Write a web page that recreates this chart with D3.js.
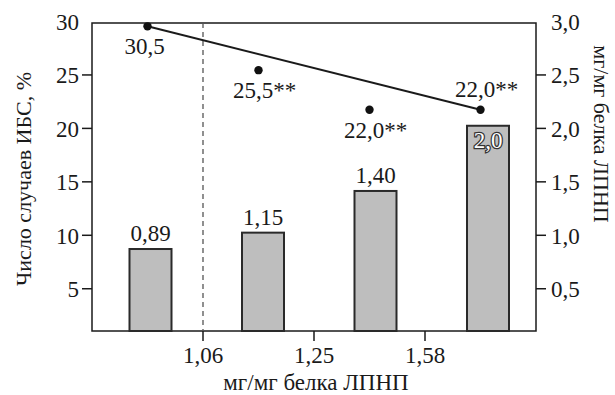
<!DOCTYPE html>
<html>
<head>
<meta charset="utf-8">
<script src="https://cdn.jsdelivr.net/npm/d3@7"></script>
<style>
  body { margin: 0; background: #fff; }
  svg text { font-family: "Liberation Serif", "Times New Roman", serif; fill: #1a1a1a; }
</style>
</head>
<body>
<script>
// quartile groups
var groups = ['Q1', 'Q2', 'Q3', 'Q4'];
var boundLabels = ['1,06', '1,25', '1,58'];

// bars, right axis (мг/мг белка ЛПНП)
var barValues = [0.867, 1.02, 1.41, 2.02];
var barLabels = ['0,89', '1,15', '1,40', '2,0'];

// points, left axis (% cases)
var dotValues = [29.5, 25.4, 21.7, 21.7];
var dotLabels = ['30,5', '25,5**', '22,0**', '22,0**'];

var leftTicks = [5, 10, 15, 20, 25, 30];
var rightTicks = [0.5, 1.0, 1.5, 2.0, 2.5, 3.0];

var width = 615, height = 395;
var x0 = 92, x1 = 536, yTop = 23, yBot = 331;

var svg = d3.select('body').append('svg')
    .attr('width', width)
    .attr('height', height);

var x = d3.scaleBand()
    .domain(groups)
    .range([x0, x1])
    .paddingInner(0)
    .paddingOuter(0);

var yL = d3.scaleLinear().domain([1, 30]).range([yBot, 21]);
var yR = d3.scaleLinear().domain([0.1, 3.0]).range([yBot, 21]);

var comma = function(d) { return d3.format('.1f')(d).replace('.', ','); };

// frame
svg.append('rect')
    .attr('x', x0).attr('y', yTop)
    .attr('width', x1 - x0).attr('height', yBot - yTop)
    .attr('fill', 'none')
    .attr('stroke', '#1a1a1a')
    .attr('stroke-width', 1.5);

// left axis
var gL = svg.append('g')
    .attr('transform', 'translate(' + x0 + ',0)')
    .call(d3.axisLeft(yL).tickValues(leftTicks).tickSize(10).tickPadding(3));
// right axis
var gR = svg.append('g')
    .attr('transform', 'translate(' + x1 + ',0)')
    .call(d3.axisRight(yR).tickValues(rightTicks).tickSize(10).tickPadding(5).tickFormat(comma));

[gL, gR].forEach(function(g) {
    g.select('.domain').remove();
    g.selectAll('.tick line').attr('stroke', '#1a1a1a').attr('stroke-width', 1.5)
        .filter(function(d, i) { return i === leftTicks.length - 1; }).remove();
    g.selectAll('.tick text').style('font-size', '23px').attr('dy', '0.36em');
});

// x axis: ticks at group boundaries
var bounds = groups.slice(1).map(function(g) { return x(g); });
var gX = svg.append('g').attr('transform', 'translate(0,' + yBot + ')');
gX.selectAll('line').data(bounds).enter().append('line')
    .attr('x1', function(d) { return d; }).attr('x2', function(d) { return d; })
    .attr('y1', 0).attr('y2', 10)
    .attr('stroke', '#1a1a1a').attr('stroke-width', 1.5);
gX.selectAll('text').data(bounds).enter().append('text')
    .attr('x', function(d) { return d; })
    .attr('y', 32)
    .attr('text-anchor', 'middle')
    .style('font-size', '23px')
    .text(function(d, i) { return boundLabels[i]; });

// dashed line at first boundary
svg.append('line')
    .attr('x1', bounds[0]).attr('x2', bounds[0])
    .attr('y1', yTop).attr('y2', yBot)
    .attr('stroke', '#555')
    .attr('stroke-width', 1.3)
    .attr('stroke-dasharray', '5,4');

// bars
var barW = 42;
var bx = function(i) { return x(groups[i]) + x.bandwidth() / 2 + 3 + i * 1.5; };
svg.selectAll('.bar').data(barValues).enter().append('rect')
    .attr('class', 'bar')
    .attr('x', function(d, i) { return bx(i) - barW / 2; })
    .attr('y', function(d) { return yR(d); })
    .attr('width', barW)
    .attr('height', function(d) { return yBot - yR(d); })
    .attr('fill', '#bebebe')
    .attr('stroke', '#2a2a2a')
    .attr('stroke-width', 2);

var last = barValues.length - 1;
svg.selectAll('.blabel').data(barValues).enter().append('text')
    .attr('class', 'blabel')
    .attr('x', function(d, i) { return bx(i); })
    .attr('y', function(d, i) { return i === last ? yR(d) + 22 : yR(d) - 8; })
    .attr('text-anchor', 'middle')
    .style('font-size', '23px')
    .style('paint-order', 'stroke')
    .style('stroke', function(d, i) { return i === last ? '#333' : 'none'; })
    .style('stroke-width', 2.5)
    .style('fill', function(d, i) { return i === last ? '#fff' : '#1a1a1a'; }, 'important')
    .text(function(d, i) { return barLabels[i]; });

// trend line first -> last point
var cx = function(i) { return x(groups[i]) + x.bandwidth() / 2; };
svg.append('line')
    .attr('x1', cx(0)).attr('y1', yL(dotValues[0]))
    .attr('x2', cx(last)).attr('y2', yL(dotValues[last]))
    .attr('stroke', '#1a1a1a')
    .attr('stroke-width', 2);

svg.selectAll('.dot').data(dotValues).enter().append('circle')
    .attr('class', 'dot')
    .attr('cx', function(d, i) { return cx(i); })
    .attr('cy', function(d) { return yL(d); })
    .attr('r', 4.2)
    .attr('fill', '#111');

svg.selectAll('.dlabel').data(dotValues).enter().append('text')
    .attr('class', 'dlabel')
    .attr('x', function(d, i) { return cx(i) + (i === 0 ? -3 : 6); })
    .attr('y', function(d, i) { return i === last ? yL(d) - 13 : yL(d) + 28; })
    .attr('text-anchor', 'middle')
    .style('font-size', '23px')
    .text(function(d, i) { return dotLabels[i]; });

// axis titles
svg.append('text')
    .attr('transform', 'translate(31,' + ((yTop + yBot) / 2 + 2) + ') rotate(-90)')
    .attr('text-anchor', 'middle')
    .style('font-size', '22px')
    .text('Число случаев ИБС, %');

svg.append('text')
    .attr('transform', 'translate(594,' + 134 + ') rotate(90)')
    .attr('text-anchor', 'middle')
    .style('font-size', '22px')
    .text('мг/мг белка ЛПНП');

svg.append('text')
    .attr('x', (x0 + x1) / 2 + 2)
    .attr('y', 390)
    .attr('text-anchor', 'middle')
    .style('font-size', '23px')
    .text('мг/мг белка ЛПНП');
</script>
</body>
</html>
